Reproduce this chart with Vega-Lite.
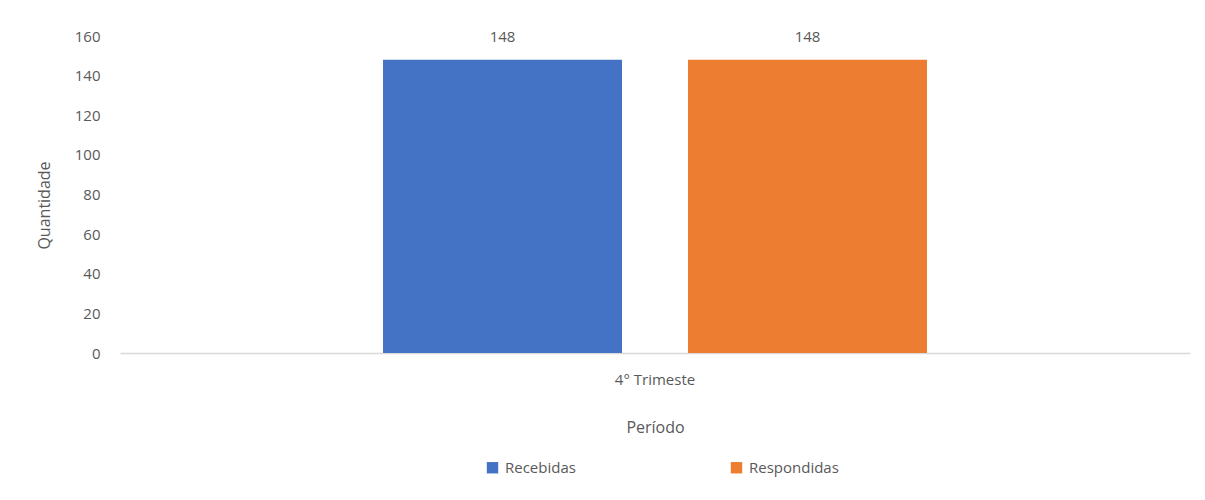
{
  "$schema": "https://vega.github.io/schema/vega-lite/v6.json",
  "autosize": {"type": "none"},
  "padding": {"left": 120, "top": 36, "right": 15, "bottom": 147},
  "width": 1070,
  "height": 317,
  "background": "white",
  "config": {
    "view": {"stroke": null},
    "font": "Open Sans",
    "axis": {"labelColor": "#595959", "titleColor": "#595959", "labelFont": "Open Sans", "titleFont": "Open Sans", "titleFontWeight": "normal", "labelFontSize": 15, "titleFontSize": 16}
  },
  "data": {
    "values": [
      {"periodo": "4° Trimeste", "serie": "Recebidas", "quantidade": 148},
      {"periodo": "4° Trimeste", "serie": "Respondidas", "quantidade": 148}
    ]
  },
  "encoding": {
    "x": {
      "field": "periodo", "type": "nominal",
      "scale": {"paddingInner": 0, "paddingOuter": 0.4835},
      "axis": {"title": "Período", "labelAngle": 0, "ticks": false, "domain": true, "domainColor": "#d9d9d9", "domainWidth": 1.5, "labelPadding": 19, "titlePadding": 32, "grid": false}
    },
    "xOffset": {"field": "serie", "type": "nominal", "scale": {"paddingInner": 0.2164, "paddingOuter": 0}},
    "y": {
      "field": "quantidade", "type": "quantitative",
      "scale": {"domain": [0, 160]},
      "axis": {"title": "Quantidade", "values": [0, 20, 40, 60, 80, 100, 120, 140, 160], "ticks": false, "domain": false, "grid": false, "labelPadding": 20, "titlePadding": 22, "titleY": 169}
    }
  },
  "layer": [
    {
      "mark": {"type": "bar"},
      "encoding": {
        "color": {
          "field": "serie", "type": "nominal",
          "scale": {"domain": ["Recebidas", "Respondidas"], "range": ["#4472C4", "#ED7D31"]},
          "legend": {"title": null, "orient": "none", "direction": "horizontal", "legendX": 365, "legendY": 424, "symbolType": "square", "symbolSize": 130, "symbolStrokeWidth": 0, "labelFontSize": 15, "labelColor": "#595959", "labelFont": "Open Sans", "columnPadding": 153, "labelOffset": 5}
        }
      }
    },
    {
      "mark": {"type": "text", "dy": -23, "fontSize": 15, "color": "#595959", "font": "Open Sans"},
      "encoding": {"text": {"field": "quantidade", "type": "quantitative"}}
    }
  ]
}
